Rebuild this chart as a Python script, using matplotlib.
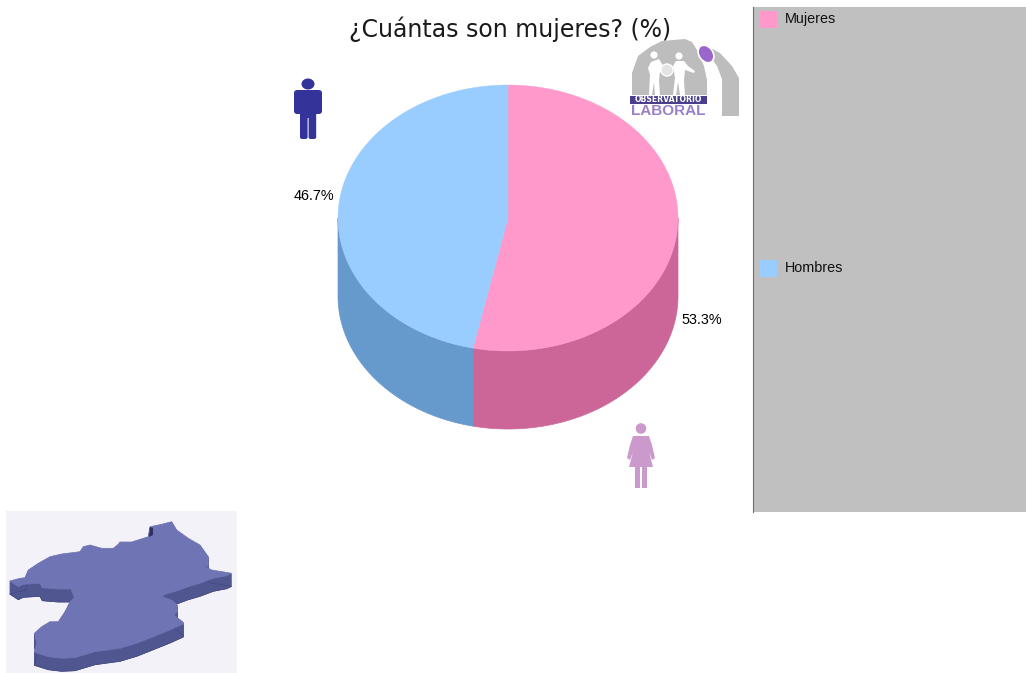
import matplotlib
matplotlib.use("Agg")
import matplotlib.pyplot as plt
import numpy as np
from matplotlib.patches import Rectangle, Polygon, Ellipse, Circle, FancyBboxPatch

title = "¿Cuántas son mujeres? (%)"
categories = ["Mujeres", "Hombres"]
shares = [53.3, 46.7]
top_colors = ["#FF99CC", "#99CCFF"]
side_colors = ["#CC6699", "#6699CC"]

# map outline, in pixels
map_x = [9.7, 20, 25, 28.3, 38.3, 50, 61.7, 80, 83.3, 90, 101.7, 113.3, 118.3, 120, 131.7, 148.3, 150,
         161.7, 171.7, 176.7, 188.3, 200, 208.3, 208.3, 201.7, 211.7, 231.7, 226.7, 213.3, 200, 188.3,
         176.7, 165, 161.7, 171.7, 177.3, 177.3, 174, 183.3, 183.3, 170, 153.3, 136.7, 120, 95, 75, 61.7,
         48.3, 34.3, 36.7, 34.3, 41.7, 50, 58.3, 65, 70, 74.3, 71, 58.3, 42.3, 40, 23.3, 18.3]
map_y = [581, 578.3, 577.7, 570, 563.3, 556.7, 554, 551.7, 546.7, 545, 548.3, 548.3, 544.3, 542, 542,
         536.7, 526.7, 524.3, 521.7, 530, 538.3, 545, 556.7, 566.7, 565, 570, 573.3, 575.7, 578.3, 583.3,
         586.7, 591, 594.3, 596.7, 600, 605, 612, 615, 622.3, 624, 630, 636.7, 643.3, 648.3, 651.7, 657.7,
         658.3, 656.7, 652.3, 643, 633.3, 626.7, 621.7, 621.7, 611.7, 601.7, 597.7, 589, 589, 587.7, 583.3,
         584.3, 586.7]

fig = plt.figure(figsize=(10.26, 6.73), dpi=100)
ax = fig.add_axes([0, 0, 1, 1])
ax.set_xlim(0, 1026)
ax.set_ylim(673, 0)
ax.axis("off")

# pie, angles run clockwise from the top
cx, cy, rx, ry, depth = 508, 218, 170, 133, 78
edges = np.radians(np.cumsum([0] + shares) * 3.6)


def rim(a, b):
    t = np.linspace(a, b, 120)
    return cx + rx * np.sin(t), cy - ry * np.cos(t)


for i in range(len(shares)):
    a, b = edges[i], edges[i + 1]
    # side wall only where the rim faces down
    a2, b2 = max(a, np.pi / 2), min(b, 3 * np.pi / 2)
    if b2 > a2:
        x, y = rim(a2, b2)
        wall = np.column_stack([np.r_[x, x[::-1]], np.r_[y, y[::-1] + depth]])
        ax.add_patch(Polygon(wall, fc=side_colors[i], ec=side_colors[i], lw=0.5))
for i in range(len(shares)):
    x, y = rim(edges[i], edges[i + 1])
    ax.add_patch(Polygon(np.column_stack([np.r_[cx, x], np.r_[cy, y]]), fc=top_colors[i], ec=top_colors[i], lw=0.3))

ax.text(510, 29, title, fontsize=17, ha="center", va="center", color="#1a1a1a", family="DejaVu Sans")
ax.text(681, 320.5, "%.1f%%" % shares[0], fontsize=10.4, va="center", ha="left", family="Liberation Sans")
ax.text(334, 196.5, "%.1f%%" % shares[1], fontsize=10.4, va="center", ha="right", family="Liberation Sans")

# legend panel
ax.add_patch(Rectangle((753, 7), 273, 505, fc="#C0C0C0", ec="none"))
ax.plot([753, 753], [7, 512], color="#707070", lw=0.8)
for name, col, yy in zip(categories, top_colors, [19, 268]):
    ax.add_patch(Rectangle((760, yy - 8.5), 17, 17, fc=col, ec="none"))
    ax.text(785, yy + 0.5, name, fontsize=10.4, va="center", ha="left", color="#111111", family="Liberation Sans")

# man icon
blue = "#333399"
ax.add_patch(Ellipse((308, 84), 13, 11, fc=blue, ec="none"))
ax.add_patch(FancyBboxPatch((294, 90), 28, 24, boxstyle="round,pad=0,rounding_size=3", fc=blue, ec="none"))
ax.add_patch(FancyBboxPatch((300, 108), 7.6, 31, boxstyle="round,pad=0,rounding_size=2", fc=blue, ec="none"))
ax.add_patch(FancyBboxPatch((308.6, 108), 7.6, 31, boxstyle="round,pad=0,rounding_size=2", fc=blue, ec="none"))
ax.add_patch(Rectangle((300, 108), 16.2, 10, fc=blue, ec="none"))

# woman icon
lilac = "#CC99CC"
ax.add_patch(Circle((641, 428.5), 5.3, fc=lilac, ec="none"))
ax.add_patch(Polygon([(633, 436), (649, 436), (652, 445), (655, 458), (652, 460), (649, 452),
                      (653, 467), (629, 467), (633, 452), (630, 460), (627, 458), (630, 445)],
                     fc=lilac, ec="none"))
ax.add_patch(Rectangle((635, 466), 5, 22, fc=lilac, ec="none"))
ax.add_patch(Rectangle((642, 466), 5, 22, fc=lilac, ec="none"))

# logo: arch, two figures, ball, banner
gray = "#BDBDBD"
ax.add_patch(Polygon([(632, 95), (632, 73), (638, 56), (650, 47), (662, 41), (685, 39), (692, 42), (697, 50),
                      (704, 66), (707, 80), (707, 95)], fc=gray, ec="none"))
ax.add_patch(Polygon([(707, 46), (720, 53), (732, 66), (739, 78), (739, 116), (722, 116), (722, 79),
                      (717, 66), (712, 59)], fc=gray, ec="none"))
ax.add_patch(Circle((654, 55), 3.6, fc="white", ec="none"))
ax.add_patch(Polygon([(648, 68), (651, 62), (659, 59), (662, 64), (666, 70), (663, 74), (660, 72), (659, 80),
                      (660, 95), (655, 95), (654, 82), (652, 95), (649, 95), (650, 75)], fc="white", ec="none"))
ax.add_patch(Circle((667, 70), 6, fc="#E4E4E4", ec="white", lw=1))
ax.add_patch(Circle((679, 56), 3.6, fc="white", ec="none"))
ax.add_patch(Polygon([(673, 66), (676, 61), (684, 61), (688, 66), (695, 71), (694, 73), (685, 70), (684, 80),
                      (685, 95), (680, 95), (678, 82), (676, 95), (673, 95), (675, 78)], fc="white", ec="none"))
ax.add_patch(Ellipse((706, 54), 14, 19, angle=-35, fc="#9966CC", ec="white", lw=1.2))
ax.add_patch(Rectangle((630, 95.5), 77, 8.5, fc="#4A3F8C", ec="none"))
ax.text(668.5, 99.6, "OBSERVATORIO", fontsize=5.6, color="white", ha="center", va="center",
        family="DejaVu Sans", weight="bold")
ax.text(668.5, 111, "LABORAL", fontsize=11, color="#9A80C8", ha="center", va="center",
        family="Liberation Sans", weight="bold")

# map picture
ax.add_patch(Rectangle((6, 511), 231, 162, fc="#F2F2F8", ec="none"))
outline = np.column_stack([map_x, map_y])
for dy in range(13, 0, -1):
    ax.add_patch(Polygon(outline + [0, dy], fc="#50568F", ec="#50568F", lw=0.5))
ax.add_patch(Polygon(outline + [0, 13], fc="none", ec="#43477E", lw=0.5))
ax.add_patch(Polygon(outline, fc="#6E74B4", ec="#6E74B4", lw=0.5))
ax.add_patch(Polygon([(150, 527), (153, 528), (153, 535), (149, 537)], fc="#2E3060", ec="none"))

fig.savefig("out.png", dpi=100)
